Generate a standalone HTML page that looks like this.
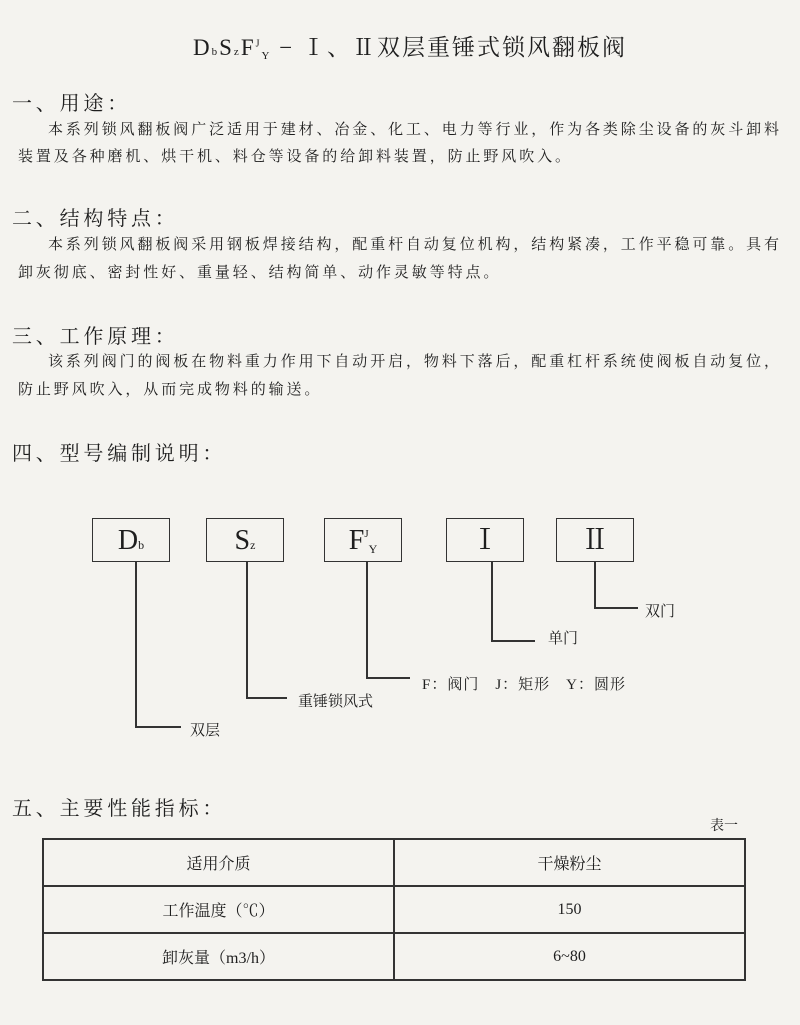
<!DOCTYPE html>
<html><head><meta charset="utf-8"><style>
html,body{margin:0;padding:0}
body{width:800px;height:1025px;background:#f4f3ef;color:#1e1e1e;position:relative;overflow:hidden;font-family:"Liberation Serif","Noto Serif CJK SC",serif}
.a{position:absolute;white-space:nowrap}
.h{font-size:20px;letter-spacing:3.8px;left:12px}
.p{font-size:15px;letter-spacing:2.9px;left:18px}
.box{position:absolute;border:1.5px solid #333;width:76px;height:42px;top:518px;font-size:28px;text-align:center;line-height:44px}
.l{position:absolute;background:#333}
.lb{position:absolute;font-size:15px;white-space:nowrap}
table{position:absolute;left:42px;top:838px;width:704px;border-collapse:collapse;font-size:16px}
td{border:2px solid #333;height:43px;text-align:center;width:50%}
</style></head><body>
<div class="a" style="left:193px;top:29px;font-size:23px;letter-spacing:2px">D<span style="font-size:11px">b</span>S<span style="font-size:11px">z</span>F<sup style="font-size:10px">J</sup><span style="font-size:11px;position:relative;top:4px">Y</span> − Ⅰ、Ⅱ双层重锤式锁风翻板阀</div>

<div class="a h" style="top:87px">一、用途：</div>
<div class="a p" style="top:118px;left:48px">本系列锁风翻板阀广泛适用于建材、冶金、化工、电力等行业，作为各类除尘设备的灰斗卸料</div>
<div class="a p" style="top:145px">装置及各种磨机、烘干机、料仓等设备的给卸料装置，防止野风吹入。</div>

<div class="a h" style="top:202px">二、结构特点：</div>
<div class="a p" style="top:233px;left:48px">本系列锁风翻板阀采用钢板焊接结构，配重杆自动复位机构，结构紧凑，工作平稳可靠。具有</div>
<div class="a p" style="top:261px">卸灰彻底、密封性好、重量轻、结构简单、动作灵敏等特点。</div>

<div class="a h" style="top:320px">三、工作原理：</div>
<div class="a p" style="top:350px;left:48px">该系列阀门的阀板在物料重力作用下自动开启，物料下落后，配重杠杆系统使阀板自动复位，</div>
<div class="a p" style="top:378px">防止野风吹入，从而完成物料的输送。</div>

<div class="a h" style="top:437px">四、型号编制说明：</div>

<div class="box" style="left:92px">D<span style="font-size:12px">b</span></div>
<div class="box" style="left:206px">S<span style="font-size:12px">z</span></div>
<div class="box" style="left:324px">F<span style="font-size:11px;position:relative;top:-12px">J</span><span style="font-size:12px;position:relative;top:4px">Y</span></div>
<div class="box" style="left:446px">Ⅰ</div>
<div class="box" style="left:556px">Ⅱ</div>

<div class="l" style="left:135px;top:561px;width:1.5px;height:166px"></div>
<div class="l" style="left:135px;top:726px;width:46px;height:1.5px"></div>
<div class="lb" style="left:190px;top:719px">双层</div>

<div class="l" style="left:246px;top:561px;width:1.5px;height:138px"></div>
<div class="l" style="left:246px;top:697px;width:41px;height:1.5px"></div>
<div class="lb" style="left:298px;top:690px">重锤锁风式</div>

<div class="l" style="left:366px;top:561px;width:1.5px;height:118px"></div>
<div class="l" style="left:366px;top:677px;width:44px;height:1.5px"></div>
<div class="lb" style="left:422px;top:673px;letter-spacing:1px">F：阀门　J：矩形　Y：圆形</div>

<div class="l" style="left:491px;top:561px;width:1.5px;height:81px"></div>
<div class="l" style="left:491px;top:640px;width:44px;height:1.5px"></div>
<div class="lb" style="left:548px;top:627px">单门</div>

<div class="l" style="left:594px;top:561px;width:1.5px;height:48px"></div>
<div class="l" style="left:594px;top:607px;width:44px;height:1.5px"></div>
<div class="lb" style="left:645px;top:600px">双门</div>

<div class="a h" style="top:792px">五、主要性能指标：</div>
<div class="a" style="left:710px;top:815px;font-size:14px">表一</div>
<table>
<tr><td>适用介质</td><td>干燥粉尘</td></tr>
<tr><td>工作温度（℃）</td><td>150</td></tr>
<tr><td>卸灰量（m3/h）</td><td>6~80</td></tr>
</table>
</body></html>
